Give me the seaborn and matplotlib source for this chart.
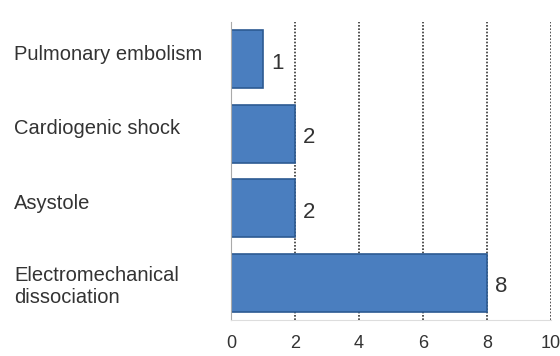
import matplotlib
matplotlib.use("Agg")
import matplotlib.pyplot as plt
import matplotlib.transforms as mtransforms
import seaborn as sb
import pandas as pd

causes = ["Pulmonary embolism", "Cardiogenic shock", "Asystole",
          "Electromechanical\ndissociation"]
counts = [1, 2, 2, 8]
xticks = [0, 2, 4, 6, 8, 10]

df = pd.DataFrame({"cause": causes, "count": counts})

sb.set_style("white")
plt.rcParams['font.family'] = ['Liberation Sans', 'DejaVu Sans']

fig = plt.figure(figsize=(5.6, 3.56), dpi=100)
ax = fig.add_axes([0.4125, 0.101, 0.5715, 0.837])

sb.barplot(data=df, x="count", y="cause", orient="h", color="#4A7EBF",
           edgecolor="#2C5A92", linewidth=1.2, width=0.78, saturation=1, ax=ax)

for i, v in enumerate(counts):
    ax.text(v + 0.25, i + 0.05, str(v), va="center", ha="left", fontsize=16, color="#333333")

ax.set_xlim(0, 10)
ax.set_xticks(xticks)
ax.set_xticklabels([str(t) for t in xticks], fontsize=13, color="#333333")
for t in xticks[1:]:
    ax.axvline(t, color="#333333", linestyle=(0, (1, 1)), linewidth=1.2, zorder=0)

ax.set_xlabel("")
ax.set_ylabel("")
ax.tick_params(axis="y", length=0, pad=156)
# single-line labels sit a little above the bar centre in the original
shift = mtransforms.ScaledTranslation(0, 7 / 100, fig.dpi_scale_trans)
for lab in ax.get_yticklabels():
    lab.set_ha("left")
    lab.set_fontsize(14.5)
    lab.set_color("#333333")
    if "\n" not in lab.get_text():
        lab.set_transform(lab.get_transform() + shift)
ax.tick_params(axis="x", length=4, color="#bbbbbb", pad=7)

for s in ["top", "right"]:
    ax.spines[s].set_visible(False)
ax.spines["left"].set_color("#aaaaaa")
ax.spines["bottom"].set_color("#dddddd")

fig.savefig("out.png", dpi=100)
